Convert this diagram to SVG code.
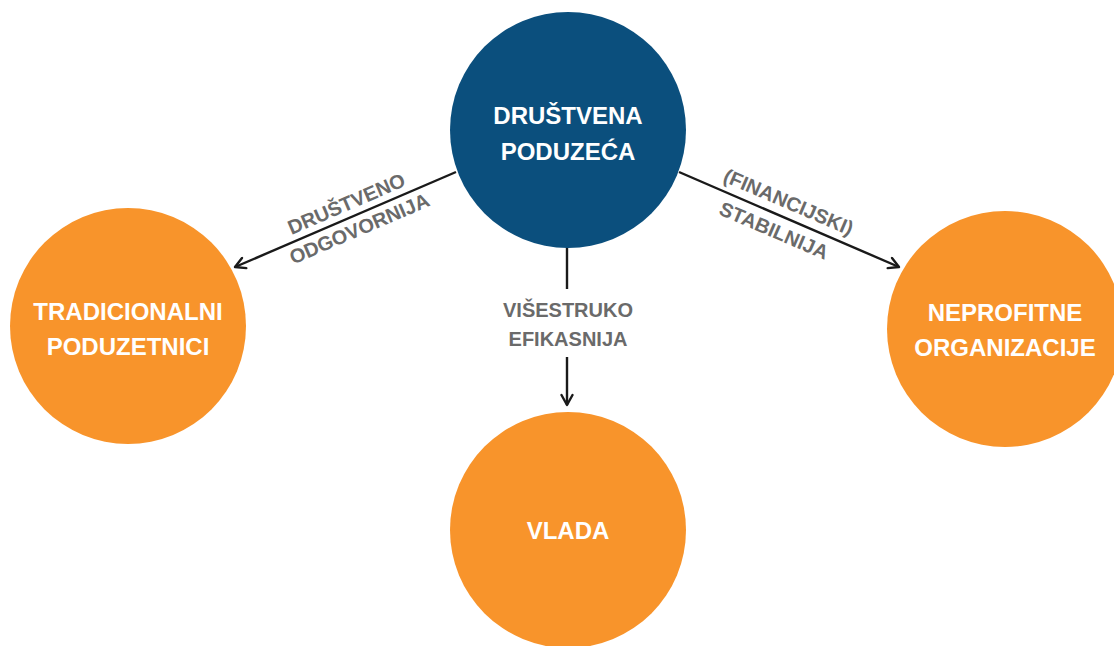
<svg xmlns="http://www.w3.org/2000/svg" width="1114" height="646" viewBox="0 0 1114 646">
<defs>
<style>
.navy{fill:#0b4f7d}
.orange{fill:#f8942b}
.ntext{font-family:"Liberation Sans",Arial,sans-serif;font-weight:bold;font-size:24px;fill:#ffffff;text-anchor:middle}
.lbl{font-family:"Liberation Sans",Arial,sans-serif;font-weight:bold;font-size:20px;fill:#6a6a6a;text-anchor:middle}
.conn{stroke:#1a1a1a;stroke-width:2.4;fill:none}
</style>
<marker id="arr" viewBox="0 0 14 14" refX="12" refY="7" markerWidth="14" markerHeight="14" markerUnits="userSpaceOnUse" orient="auto">
<path d="M2,1.5 L12,7 L2,12.5" fill="none" stroke="#1a1a1a" stroke-width="2.4" stroke-linecap="round" stroke-linejoin="round"/>
</marker>
</defs>
<rect width="1114" height="646" fill="#ffffff"/>
<g id="connectors">
<line class="conn" x1="456" y1="172" x2="235" y2="267" marker-end="url(#arr)"/>
<line class="conn" x1="679" y1="172" x2="899" y2="267" marker-end="url(#arr)"/>
<line class="conn" x1="567" y1="247" x2="567" y2="289"/>
<line class="conn" x1="567" y1="357" x2="567" y2="405" marker-end="url(#arr)"/>
<g transform="translate(352,216.5) rotate(-23.3)">
<text class="lbl" x="0" y="-7">DRUŠTVENO</text>
<text class="lbl" x="2" y="21">ODGOVORNIJA</text>
</g>
<g transform="translate(784,217.4) rotate(23.2)">
<text class="lbl" x="-2" y="-9">(FINANCIJSKI)</text>
<text class="lbl" x="-4" y="23">STABILNIJA</text>
</g>
<text class="lbl" x="568" y="317">VIŠESTRUKO</text>
<text class="lbl" x="568" y="346">EFIKASNIJA</text>
</g>
<g id="node-drustvena">
<circle class="navy" cx="568" cy="130" r="118"/>
<text class="ntext" x="568" y="124">DRUŠTVENA</text>
<text class="ntext" x="568" y="160">PODUZEĆA</text>
</g>
<g id="node-tradicionalni">
<circle class="orange" cx="128" cy="326" r="118"/>
<text class="ntext" x="128" y="320">TRADICIONALNI</text>
<text class="ntext" x="128" y="355">PODUZETNICI</text>
</g>
<g id="node-neprofitne">
<circle class="orange" cx="1005" cy="329" r="118"/>
<text class="ntext" x="1005" y="321">NEPROFITNE</text>
<text class="ntext" x="1005" y="356">ORGANIZACIJE</text>
</g>
<g id="node-vlada">
<circle class="orange" cx="568" cy="530" r="118"/>
<text class="ntext" x="568" y="539">VLADA</text>
</g>
</svg>
